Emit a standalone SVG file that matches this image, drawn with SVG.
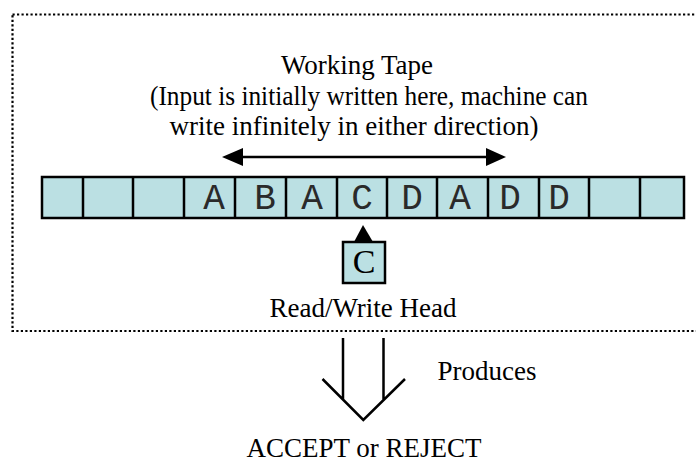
<svg xmlns="http://www.w3.org/2000/svg" width="696" height="462" viewBox="0 0 696 462">
<style>
.t{font-family:"Liberation Serif","Times New Roman",serif;font-size:27px;fill:#000;text-anchor:middle}
.m{font-family:"Liberation Mono","Courier New",monospace;font-size:36px;fill:#2a2a2a;text-anchor:middle}
.cell{fill:#bbe0e3;stroke:#000;stroke-width:2.5}
.ln{stroke:#000;stroke-width:2.5;fill:none}
</style>
<rect width="696" height="462" fill="#fff"/>
<g id="frame">
<rect x="12.5" y="14.5" width="720" height="316.5" fill="none" stroke="#000" stroke-width="2.2" stroke-dasharray="2.2 2.3"/>
</g>
<g id="title">
<text class="t" x="357" y="74">Working Tape</text>
<text class="t" x="369" y="105" textLength="438" lengthAdjust="spacingAndGlyphs">(Input is initially written here, machine can</text>
<text class="t" x="354" y="135">write infinitely in either direction)</text>
</g>
<g id="tape">
<rect class="cell" x="42" y="177" width="642" height="41"/>
<path class="ln" d="M83 177V218M133 177V218M184 177V218M235 177V218M286 177V218M337 177V218M387 177V218M437 177V218M488 177V218M539 177V218M589 177V218M640 177V218"/>
<text class="m" x="214" y="209">A</text>
<text class="m" x="265" y="209">B</text>
<text class="m" x="312" y="209">A</text>
<text class="m" x="362" y="209">C</text>
<text class="m" x="412" y="209">D</text>
<text class="m" x="460" y="209">A</text>
<text class="m" x="510" y="209">D</text>
<text class="m" x="559" y="209">D</text>
</g>
<g id="head">
<rect class="cell" x="343" y="242" width="42" height="41"/>
<text class="t" x="364" y="273" style="font-size:34px">C</text>
<text class="t" x="363" y="317">Read/Write Head</text>
</g>
<g id="result">
<text class="t" x="487" y="380">Produces</text>
<text class="t" x="364" y="457">ACCEPT or REJECT</text>
</g>
<g id="connectors">
<line x1="240" y1="157" x2="488" y2="157" stroke="#000" stroke-width="2.5"/>
<polygon points="222,157 243,148 243,166" fill="#000"/>
<polygon points="506,157 486,148 486,166" fill="#000"/>
<polygon points="363,225 354,242 373,242" fill="#000"/>
<path class="ln" d="M343 338V400M383.5 338V400M322.5 379L363.3 420L405 379"/>
</g>
</svg>
